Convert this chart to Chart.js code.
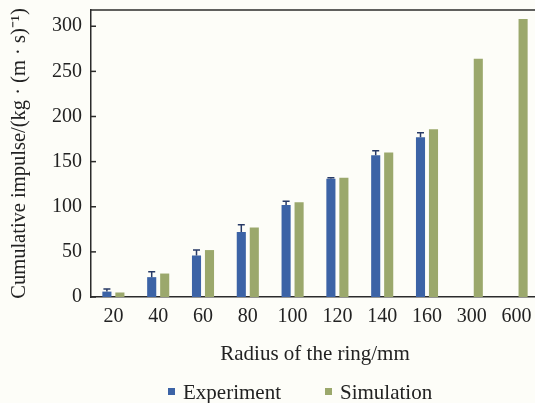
<!DOCTYPE html>
<html>
<head>
<meta charset="utf-8">
<script src="https://cdn.jsdelivr.net/npm/chart.js@4.4.1/dist/chart.umd.min.js"></script>
<style>
  html, body { margin: 0; padding: 0; background: #fdfdf8; overflow: hidden; }
  #wrap { width: 535px; height: 403px; overflow: hidden; position: relative; }
  #box { width: 545px; height: 403px; position: relative; }
  #legend { position: absolute; left: 0; top: 380px; width: 535px; height: 24px;
            font-family: 'Liberation Serif', 'Times New Roman', serif; font-size: 21px; color: #222; }
  #legend span.item { position: absolute; top: 0; line-height: 24px; white-space: nowrap; }
  #legend i { display: inline-block; width: 7px; height: 7px; margin-right: 8px; vertical-align: 4px; }
</style>
</head>
<body>
<div id="wrap">
  <div id="box"><canvas id="impulseChart"></canvas></div>
  <div id="legend"></div>
</div>
<script>
// data
const radius = ["20", "40", "60", "80", "100", "120", "140", "160", "300", "600"];
const experiment = [6, 22, 46, 72, 102, 131, 157, 177, null, null];
const experimentErr = [3, 6, 6, 8, 4, 1, 5, 5, null, null];
const simulation = [5, 26, 52, 77, 105, 132, 160, 186, 264, 308];
const yTicks = [0, 50, 100, 150, 200, 250, 300];

const serif = "'Liberation Serif', 'Times New Roman', serif";
const blue = "#3c63a6";
const green = "#9ba86c";

// error bars (upward only) + inward y ticks + top frame line
const extras = {
    id: "extras",
    afterDatasetsDraw(chart) {
        const ctx = chart.ctx;
        const y = chart.scales.y;
        const area = chart.chartArea;
        const meta = chart.getDatasetMeta(0);

        ctx.save();
        ctx.strokeStyle = "#283a66";
        ctx.lineWidth = 1.5;
        meta.data.forEach((bar, i) => {
            if (experiment[i] == null || experimentErr[i] == null) return;
            const top = y.getPixelForValue(experiment[i] + experimentErr[i]);
            const base = y.getPixelForValue(experiment[i]);
            ctx.beginPath();
            ctx.moveTo(bar.x, base);
            ctx.lineTo(bar.x, top);
            ctx.moveTo(bar.x - 3.5, top);
            ctx.lineTo(bar.x + 3.5, top);
            ctx.stroke();
        });

        ctx.strokeStyle = "#2b2b2b";
        ctx.lineWidth = 1.5;
        yTicks.forEach((v) => {
            const py = y.getPixelForValue(v);
            ctx.beginPath();
            ctx.moveTo(area.left, py);
            ctx.lineTo(area.left + 5, py);
            ctx.stroke();
        });
        ctx.beginPath();
        ctx.moveTo(area.left, area.top);
        ctx.lineTo(area.right, area.top);
        ctx.stroke();
        ctx.restore();
    },
};

var ctx = document.getElementById("impulseChart").getContext("2d");
var chart = new Chart(ctx, {
    type: "bar",
    data: {
        labels: radius,
        datasets: [
            {
                label: "Experiment",
                data: experiment,
                backgroundColor: blue,
                categoryPercentage: 0.58,
                barPercentage: 0.7,
            },
            {
                label: "Simulation",
                data: simulation,
                backgroundColor: green,
                categoryPercentage: 0.58,
                barPercentage: 0.7,
            },
        ],
    },
    options: {
        responsive: true,
        maintainAspectRatio: false,
        animation: false,
        layout: { padding: { top: 10, right: 6, left: 0, bottom: 33 } },
        plugins: {
            tooltip: { enabled: false },
            legend: { display: false },
        },
        scales: {
            x: {
                grid: { display: false, drawTicks: false },
                border: { color: "#2b2b2b", width: 1.5 },
                ticks: { color: "#222", font: { family: serif, size: 20 }, padding: 8 },
                title: {
                    display: true,
                    text: "Radius of the ring/mm",
                    color: "#222",
                    font: { family: serif, size: 21 },
                    padding: { top: 0, bottom: 3 },
                },
                afterFit: (axis) => {
                    axis.height = 73;
                },
            },
            y: {
                min: 0,
                max: 318,
                afterBuildTicks: (axis) => {
                    axis.ticks = yTicks.map((v) => ({ value: v }));
                },
                grid: { display: false, drawTicks: false },
                border: { color: "#2b2b2b", width: 1.5 },
                ticks: { color: "#222", font: { family: serif, size: 20 }, padding: 9 },
                title: {
                    display: true,
                    text: "Cumulative impulse/(kg · (m · s)⁻¹)",
                    color: "#222",
                    font: { family: serif, size: 20.5 },
                    padding: { top: 7, bottom: 0 },
                },
                afterFit: (axis) => {
                    axis.width = 91;
                    axis.paddingTop = 0;
                    axis.paddingBottom = 0;
                },
            },
        },
    },
    plugins: [extras],
});

// legend drawn as html under the chart
var legendItems = [
    { text: "Experiment", color: blue, left: 168 },
    { text: "Simulation", color: green, left: 325 },
];
var legendBox = document.getElementById("legend");
legendItems.forEach(function (item) {
    var span = document.createElement("span");
    span.className = "item";
    span.style.left = item.left + "px";
    var mark = document.createElement("i");
    mark.style.background = item.color;
    span.appendChild(mark);
    span.appendChild(document.createTextNode(item.text));
    legendBox.appendChild(span);
});
</script>
</body>
</html>
